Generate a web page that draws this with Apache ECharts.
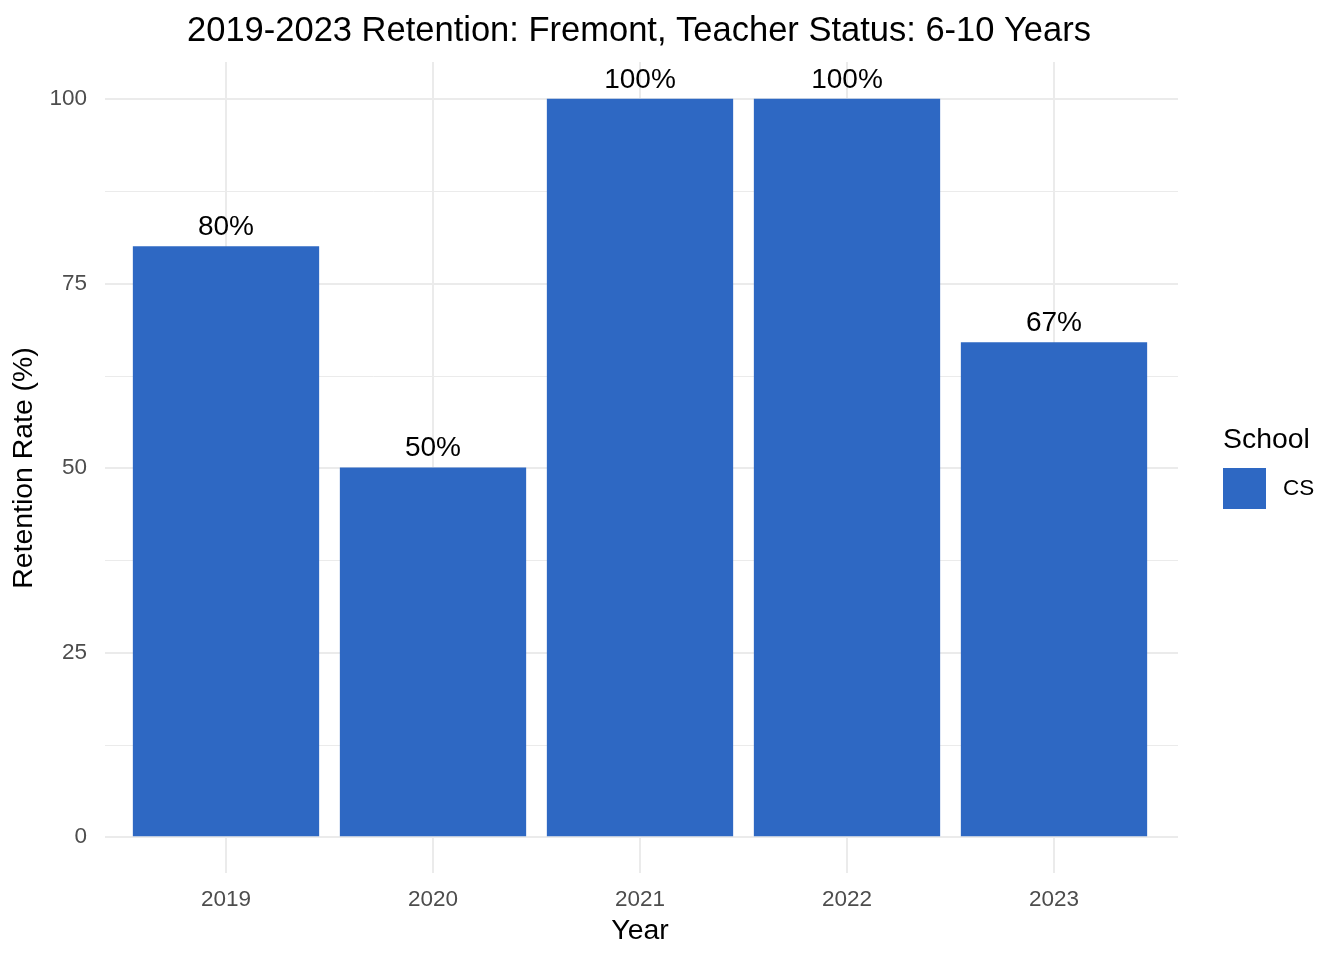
<!DOCTYPE html>
<html>
<head>
<meta charset="utf-8">
<script src="https://cdn.jsdelivr.net/npm/echarts@6/dist/echarts.min.js"></script>
<style>
  html, body { margin: 0; padding: 0; background: #fff; }
  #chart { width: 1344px; height: 960px; }
</style>
</head>
<body>
<div id="chart"></div>
<script>
// data
var years = ['2019', '2020', '2021', '2022', '2023'];
var retention = [80, 50, 100, 100, 67];
var yTicks = [0, 25, 50, 75, 100];
var schoolName = 'CS';

var FONT = '"Liberation Sans", Arial, sans-serif';
var barColor = '#2E68C3';
var gridColor = '#EBEBEB';

var myChart = echarts.init(document.getElementById('chart'));
var option = {
    backgroundColor: '#fff',
    animation: false,
    textStyle: { fontFamily: FONT },
    grid: [
        // background panel: horizontal grid lines 0..100
        { left: 105, right: 166, top: 99, bottom: 123, outerBoundsMode: 'none', containLabel: false },
        // bars + vertical lines, y range -5..105
        { left: 122.5, right: 186.5, top: 62, bottom: 87, outerBoundsMode: 'none', containLabel: false }
    ],
    xAxis: [
        { gridIndex: 0, type: 'value', min: 0, max: 1, show: false },
        {
            gridIndex: 1, type: 'category', data: years,
            axisLine: { show: false, onZero: false },
            axisTick: { show: true, inside: true, alignWithLabel: true, length: 811,
                lineStyle: { color: gridColor, width: 2 } },
            axisLabel: { color: '#4D4D4D', fontSize: 22.5, fontFamily: FONT, margin: 15 },
            splitLine: { show: false },
            name: 'Year', nameLocation: 'middle', nameGap: 44,
            nameTextStyle: { color: '#000', fontSize: 28.4, fontFamily: FONT }
        }
    ],
    yAxis: [
        {
            gridIndex: 0, type: 'value', min: yTicks[0], max: yTicks[yTicks.length - 1], interval: 25,
            axisLine: { show: false }, axisTick: { show: false },
            axisLabel: { color: '#4D4D4D', fontSize: 22.5, fontFamily: FONT, margin: 18, padding: [4, 0, 0, 0] },
            splitLine: { show: true, lineStyle: { color: gridColor, width: 2 } },
            minorTick: { show: false, splitNumber: 2 },
            minorSplitLine: { show: true, lineStyle: { color: gridColor, width: 1 } },
            name: 'Retention Rate (%)', nameLocation: 'middle', nameGap: 57, nameRotate: 90,
            nameTextStyle: { color: '#000', fontSize: 28.4, fontFamily: FONT }
        },
        { gridIndex: 1, type: 'value', min: -5, max: 105, show: false, splitLine: { show: false } }
    ],
    legend: {
        data: [schoolName],
        left: 1223, top: 468,
        padding: 0,
        orient: 'vertical',
        icon: 'rect',
        itemWidth: 43, itemHeight: 41,
        textStyle: { color: '#000', fontSize: 22.5, fontFamily: FONT, padding: [5, 0, 0, 12] }
    },
    graphic: [
        { type: 'text', x: 639, y: 31,
          style: { text: '2019-2023 Retention: Fremont, Teacher Status: 6-10 Years',
                   fill: '#000', font: '34.5px ' + FONT, align: 'center', verticalAlign: 'middle' } },
        { type: 'text', x: 1223, y: 440,
          style: { text: 'School', fill: '#000', font: '28.4px ' + FONT, align: 'left', verticalAlign: 'middle' } }
    ],
    series: [
        {
            name: schoolName,
            type: 'bar',
            xAxisIndex: 1, yAxisIndex: 1,
            data: retention,
            barWidth: '90%',
            itemStyle: { color: barColor },
            label: {
                show: true, position: 'top', distance: 5,
                formatter: '{c}%', color: '#000', fontSize: 28, fontFamily: FONT
            }
        }
    ]
};
myChart.setOption(option);
</script>
</body>
</html>
